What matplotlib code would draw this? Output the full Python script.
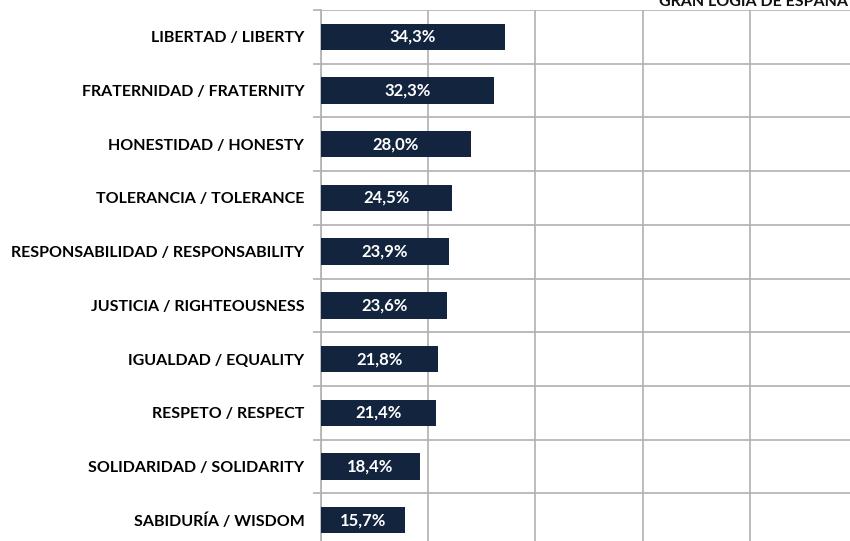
import matplotlib
matplotlib.use("Agg")
import matplotlib.pyplot as plt
import numpy as np

# values
categories = ["LIBERTAD / LIBERTY", "FRATERNIDAD / FRATERNITY", "HONESTIDAD / HONESTY",
              "TOLERANCIA / TOLERANCE", "RESPONSABILIDAD / RESPONSABILITY",
              "JUSTICIA / RIGHTEOUSNESS", "IGUALDAD / EQUALITY", "RESPETO / RESPECT",
              "SOLIDARIDAD / SOLIDARITY", "SABIDURÍA / WISDOM"]
values = [34.3, 32.3, 28.0, 24.5, 23.9, 23.6, 21.8, 21.4, 18.4, 15.7]
xticks = [0, 20, 40, 60, 80, 100]

plt.rcParams['font.family'] = ['Lato', 'DejaVu Sans']
W, H = 850, 541
fig = plt.figure(figsize=(W / 100, H / 100), dpi=100)
ax = fig.add_axes([321 / W, -6 / H, 536 / W, 537 / H])

y = np.arange(len(categories))
bars = ax.barh(y, values, height=0.49, color="#13243f", zorder=3)
for b, v in zip(bars, values):
    ax.text(v / 2, b.get_y() + b.get_height() / 2, ("%.1f%%" % v).replace(".", ","),
            ha="center", va="center", color="white", fontsize=12, fontweight="bold", zorder=4)

ax.set_xlim(0, 100)
ax.set_ylim(len(categories) - 0.5, -0.5)
ax.set_xticks(xticks)
ax.set_xticklabels([])
ax.set_yticks(y)
ax.set_yticklabels(categories, fontsize=11.5, fontweight="bold")
ax.set_yticks(np.arange(len(categories) + 1) - 0.5, minor=True)
ax.tick_params(axis="y", which="major", length=0, pad=12)
ax.tick_params(axis="y", which="minor", length=6, color="#b0b0b0", width=1.2)
ax.tick_params(axis="x", length=0)
ax.grid(axis="x", which="major", color="#b0b0b0", linewidth=1.2, zorder=0)
ax.grid(axis="y", which="minor", color="#b0b0b0", linewidth=1.2, zorder=0)
for s in ["top", "right", "bottom"]:
    ax.spines[s].set_visible(False)
ax.spines["left"].set_color("#b0b0b0")
ax.spines["left"].set_linewidth(1.2)

fig.text(659 / W, 1 - 6 / H, "GRAN LOGIA DE ESPAÑA", ha="left", va="baseline",
         fontsize=11.5, fontweight="bold", color="#111111")

fig.savefig("out.png", dpi=100)
